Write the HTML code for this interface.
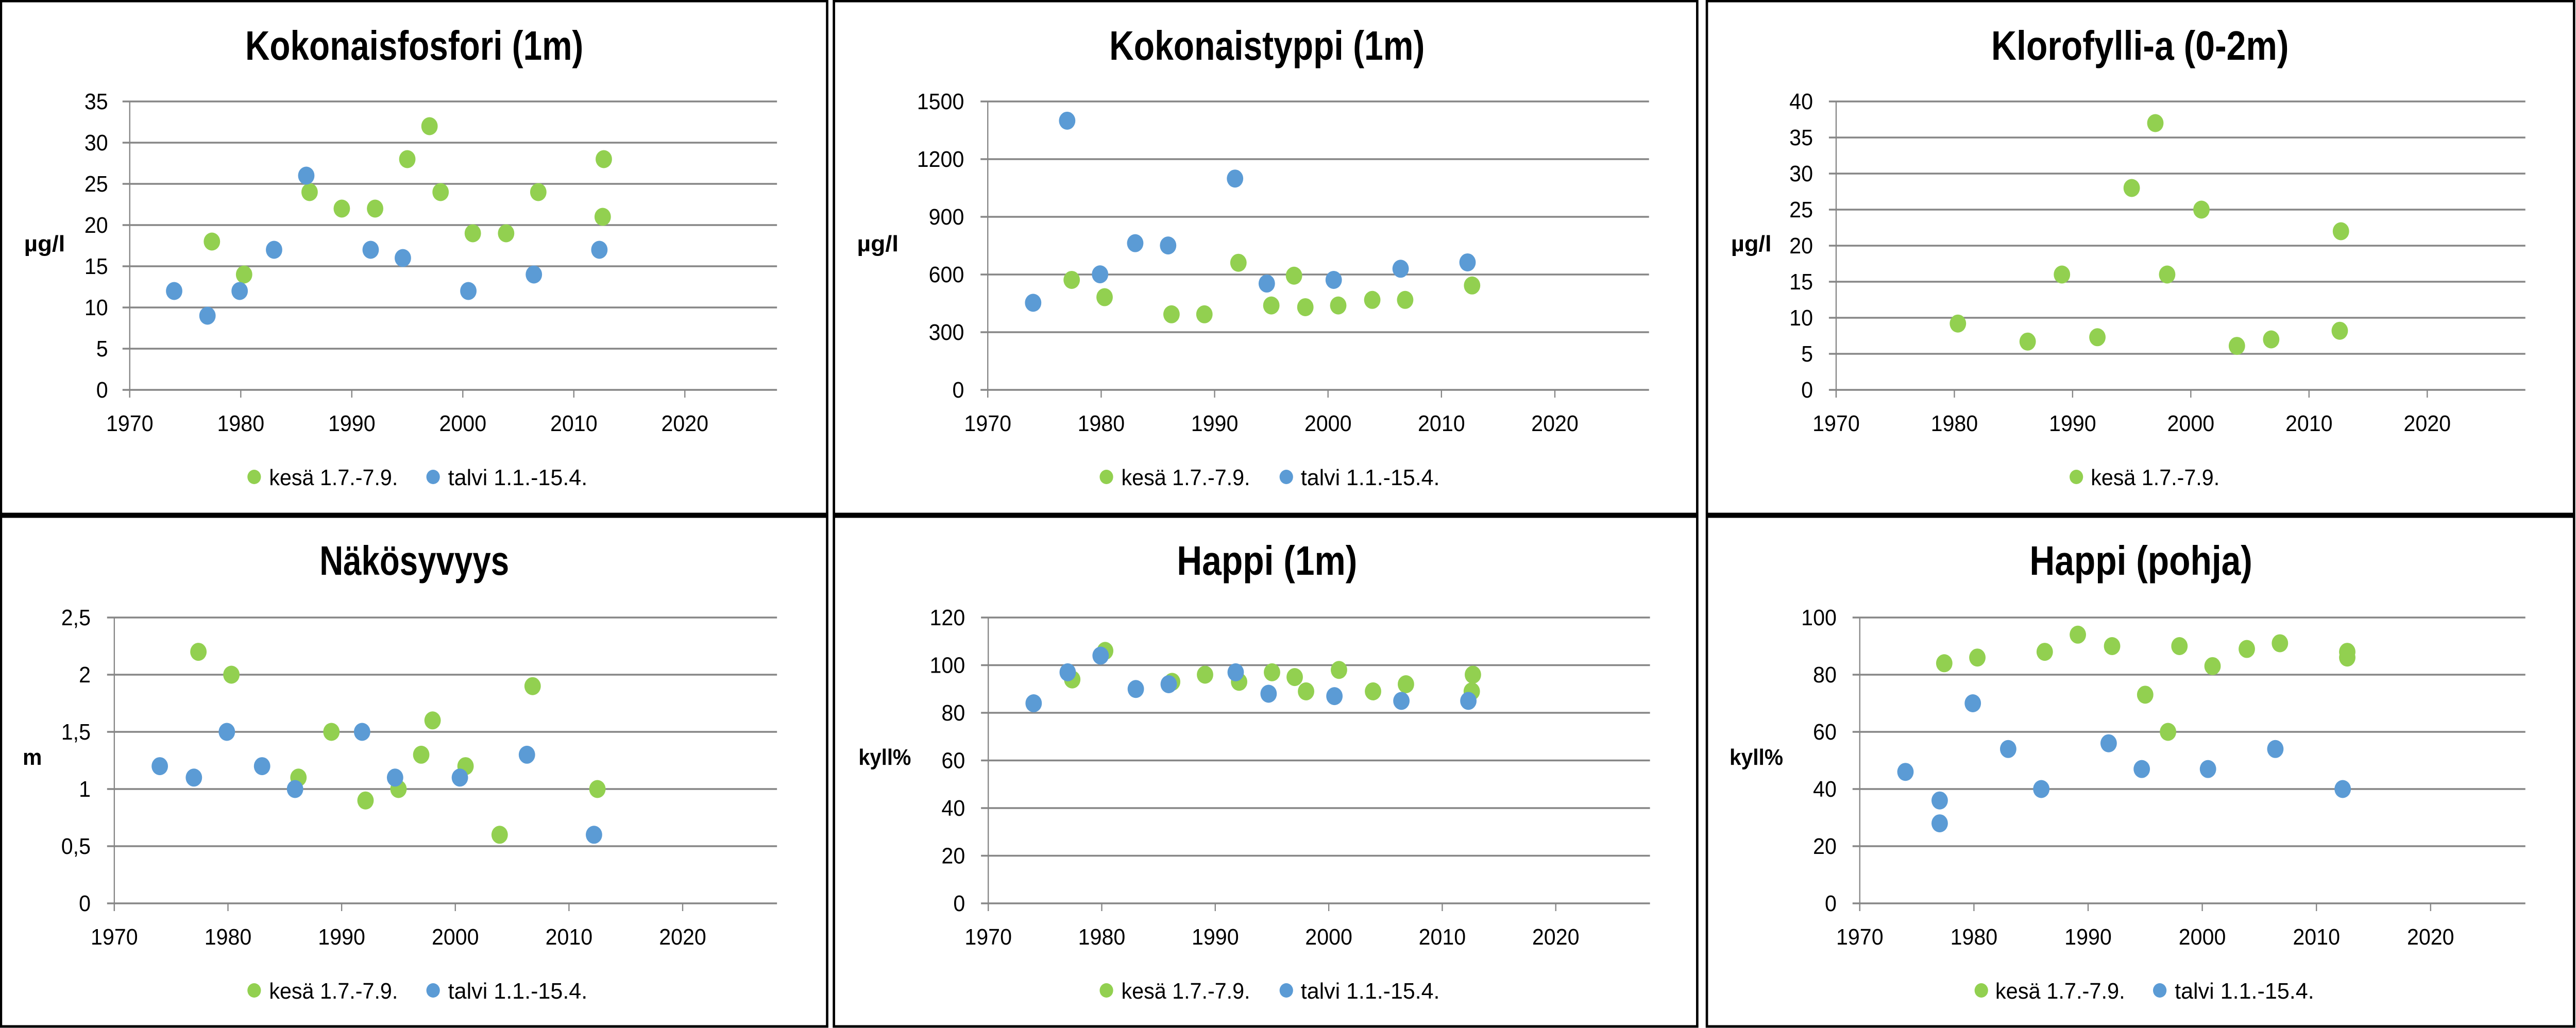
<!DOCTYPE html>
<html><head><meta charset="utf-8"><style>html,body{margin:0;padding:0;background:#fff;overflow:hidden}svg{display:block;position:fixed;left:0;top:0;width:100vw;height:100vh}</style></head>
<body>
<svg id="s" xmlns="http://www.w3.org/2000/svg" viewBox="0 0 5341 1996" preserveAspectRatio="none" font-family="'Liberation Sans', sans-serif"></svg>
<script>
const G='#92D050',B='#5B9BD5';
const P=[
 {bx:2,by:2,bw:1713,bh:996,ax:269,ar:1611,y0:757,y1:197,max:35,step:5,dec:false,lr:224,title:'Kokonaisfosfori (1m)',tc:859,tw:701,tb:116,unit:'µg/l',ux:50,uw:85,uy:488,
  leg:[[527,558,267,'kesä 1.7.-7.9.',G],[898,929,289,'talvi 1.1.-15.4.',B]],ly:926,
  g:[[1977.4,18],[1980.3,14],[1986.2,24],[1989.1,22],[1992.1,22],[1995,28],[1997,32],[1998,24],[2000.9,19],[2003.9,19],[2006.8,24],[2012.7,28],[2012.6,21]],
  b:[[1974,12],[1977,9],[1979.9,12],[1983,17],[1985.9,26],[1991.7,17],[1994.6,16],[2000.5,12],[2006.4,14],[2012.3,17]]},
 {bx:1729,by:2,bw:1790,bh:996,ax:2048,ar:3419,y0:757,y1:197,max:1500,step:300,dec:false,lr:1999,title:'Kokonaistyppi (1m)',tc:2627,tw:654,tb:116,unit:'µg/l',ux:1777,uw:86,uy:488,
  leg:[[2294,2325,267,'kesä 1.7.-7.9.',G],[2667,2697,288,'talvi 1.1.-15.4.',B]],ly:926,
  g:[[1977.4,572],[1980.3,482],[1986.2,393],[1989.1,393],[1992.1,661],[1995,439],[1997,594],[1998,430],[2000.9,439],[2003.9,468],[2006.8,468],[2012.7,543]],
  b:[[1974,453],[1977,1400],[1979.9,601],[1983,763],[1985.9,751],[1991.8,1099],[1994.6,553],[2000.5,572],[2006.4,630],[2012.3,663]]},
 {bx:3539,by:2,bw:1798,bh:996,ax:3807,ar:5236,y0:757,y1:197,max:40,step:5,dec:false,lr:3759,title:'Klorofylli-a (0-2m)',tc:4437,tw:617,tb:116,unit:'µg/l',ux:3589,uw:84,uy:488,
  leg:[[4305,4335,267,'kesä 1.7.-7.9.',G]],ly:926,
  g:[[1980.3,9.2],[1986.2,6.7],[1989.1,16],[1992.1,7.3],[1995,28],[1997,37],[1998,16],[2000.9,25],[2003.9,6.1],[2006.8,7],[2012.7,22],[2012.6,8.2]],b:[]},
 {bx:2,by:1003,bw:1713,bh:990,ax:237,ar:1611,y0:1754,y1:1199,max:2.5,step:0.5,dec:true,lr:188,title:'Näkösyvyys',tc:859,tw:393,tb:1116,unit:'m',ux:47,uw:40,uy:1485,
  leg:[[527,558,267,'kesä 1.7.-7.9.',G],[898,929,289,'talvi 1.1.-15.4.',B]],ly:1923,
  g:[[1977.4,2.2],[1980.3,2.0],[1986.2,1.1],[1989.1,1.5],[1992.1,0.9],[1995,1.0],[1997,1.3],[1998,1.6],[2000.9,1.2],[2003.9,0.6],[2006.8,1.9],[2012.5,1.0]],
  b:[[1974,1.2],[1977,1.1],[1979.9,1.5],[1983,1.2],[1985.9,1.0],[1991.8,1.5],[1994.7,1.1],[2000.4,1.1],[2006.3,1.3],[2012.2,0.6]]},
 {bx:1729,by:1003,bw:1790,bh:990,ax:2049,ar:3421,y0:1754,y1:1199,max:120,step:20,dec:false,lr:2001,title:'Happi (1m)',tc:2627,tw:374,tb:1116,unit:'kyll%',ux:1780,uw:109,uy:1485,
  leg:[[2294,2325,267,'kesä 1.7.-7.9.',G],[2667,2697,288,'talvi 1.1.-15.4.',B]],ly:1923,
  g:[[1977.4,94],[1980.3,106],[1986.2,93],[1989.1,96],[1992.1,93],[1995,97],[1997,95],[1998,89],[2000.9,98],[2003.9,89],[2006.8,92],[2012.7,96],[2012.6,89]],
  b:[[1974,84],[1977,97],[1979.9,104],[1983,90],[1985.9,92],[1991.8,97],[1994.7,88],[2000.5,87],[2006.4,85],[2012.3,85]]},
 {bx:3539,by:1003,bw:1798,bh:990,ax:3856,ar:5236,y0:1754,y1:1199,max:100,step:20,dec:false,lr:3808,title:'Happi (pohja)',tc:4439,tw:462,tb:1116,unit:'kyll%',ux:3586,uw:111,uy:1485,
  leg:[[4108,4137,269,'kesä 1.7.-7.9.',G],[4478,4509,289,'talvi 1.1.-15.4.',B]],ly:1923,
  g:[[1977.4,84],[1980.3,86],[1986.2,88],[1989.1,94],[1992.1,90],[1995,73],[1997,60],[1998,90],[2000.9,83],[2003.9,89],[2006.8,91],[2012.7,88],[2012.7,86]],
  b:[[1974,46],[1977,36],[1977,28],[1979.9,70],[1983,54],[1985.9,40],[1991.8,56],[1994.7,47],[2000.5,47],[2006.4,54],[2012.3,40]]}
];
let h='';
for(const p of P){
 h+=`<rect x="${p.bx}" y="${p.by}" width="${p.bw}" height="${p.bh}" fill="#fff" stroke="#000" stroke-width="5"/>`;
 h+=`<text x="${p.tc}" y="${p.tb}" text-anchor="middle" font-weight="bold" font-size="80" textLength="${p.tw}" lengthAdjust="spacingAndGlyphs">${p.title}</text>`;
 const per=(p.ar-p.ax)/58.3;
 const X=y=>p.ax+(y-1970)*per;
 const Y=v=>p.y0-(v/p.max)*(p.y0-p.y1);
 for(let v=0;v<=p.max+1e-9;v+=p.step){
  const y=Y(v);
  h+=`<line x1="${p.ax-15}" y1="${y}" x2="${p.ar}" y2="${y}" stroke="#868686" stroke-width="3.5"/>`;
  let s=p.dec?String(Math.round(v*10)/10).replace('.',','):String(Math.round(v));
  h+=`<text x="${p.lr}" y="${y+15}" text-anchor="end" font-size="44" fill="#000">${s}</text>`;
 }
 h+=`<line x1="${p.ax}" y1="${p.y1}" x2="${p.ax}" y2="${p.y0+15}" stroke="#868686" stroke-width="2.5"/>`;
 for(let yr=1970;yr<=2020;yr+=10){
  const x=X(yr);
  h+=`<line x1="${x}" y1="${p.y0}" x2="${x}" y2="${p.y0+15}" stroke="#868686" stroke-width="2.5"/>`;
  h+=`<text x="${x}" y="${p.y0+80}" text-anchor="middle" font-size="44">${yr}</text>`;
 }
 h+=`<text x="${p.ux}" y="${p.uy}" font-weight="bold" font-size="44" textLength="${p.uw}" lengthAdjust="spacingAndGlyphs">${p.unit}</text>`;
 for(const [yr,v] of p.g) h+=`<ellipse cx="${X(yr)}" cy="${Y(v)}" rx="17" ry="17.5" fill="${G}"/>`;
 for(const [yr,v] of p.b) h+=`<ellipse cx="${X(yr)}" cy="${Y(v)}" rx="17" ry="17.5" fill="${B}"/>`;
 for(const [dx,tx,tw,t,c] of p.leg){
  h+=`<ellipse cx="${dx}" cy="${p.ly}" rx="14" ry="14" fill="${c}"/>`;
  h+=`<text x="${tx}" y="${p.ly+16}" font-size="44" textLength="${tw}" lengthAdjust="spacingAndGlyphs">${t}</text>`;
 }
}
document.getElementById('s').innerHTML=h;
</script>
</body></html>
